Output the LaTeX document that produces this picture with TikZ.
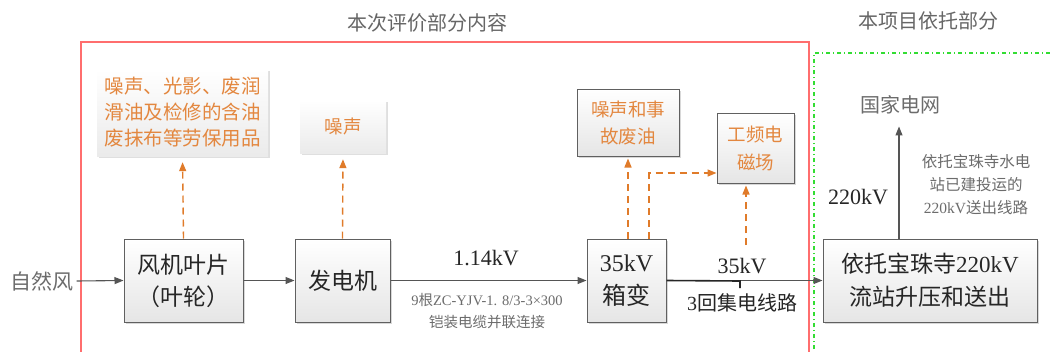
\documentclass[tikz,border=0pt]{standalone}
\usepackage{fontspec}
\setmainfont{Liberation Serif}
\newfontfamily\cjk{Noto Sans CJK SC}
\usetikzlibrary{arrows.meta,shadows}
\definecolor{orng}{HTML}{E07B2A}
\definecolor{otext}{HTML}{E3873F}
\definecolor{redb}{HTML}{FF6E6E}
\definecolor{greenb}{HTML}{33DD33}
\definecolor{linec}{HTML}{555555}
\definecolor{txt}{HTML}{262626}
\begin{document}
\begin{tikzpicture}[x=1pt,y=-1pt,
  box/.style={draw=gray!75!black, line width=1pt, top color=white, bottom color=gray!20,
    drop shadow={shadow xshift=1.5pt,shadow yshift=-1.5pt,opacity=0.3},
    align=center, text=txt, inner sep=0pt},
  nbox/.style={draw=none, top color=white, bottom color=gray!16,
    drop shadow={shadow xshift=1.5pt,shadow yshift=-1.5pt,opacity=0.25},
    align=center, text=otext, inner sep=0pt},
  flow/.style={draw=linec, line width=1.1pt, -{Triangle[length=9pt,width=7pt]}},
  dflow/.style={draw=orng, line width=1.4pt, dash pattern=on 7pt off 5pt, -{Triangle[length=9pt,width=7pt]}},
  lbl/.style={text=txt, inner sep=0pt, align=center},
]
\useasboundingbox (0,0) rectangle (1050,351);
\clip (0,0) rectangle (1050,351);
\fill[white] (0,0) rectangle (1050,351);

% frames
\draw[redb, line width=1.6pt] (81,360) -- (81,42) -- (809,42) -- (809,360);
\draw[greenb, line width=1.2pt, dash pattern=on 4pt off 3pt on 1pt off 3pt] (814,360) -- (814,53) -- (1060,53);

% titles
\node[lbl, text=gray!80!black, font=\cjk\fontsize{20}{24}\selectfont] (t1) at (427,23) {本次评价部分内容};
\node[lbl, text=gray!80!black, font=\cjk\fontsize{20}{24}\selectfont] (t2) at (928,21) {本项目依托部分};

% main boxes
\node[box, minimum width=119pt, minimum height=83pt, font=\cjk\fontsize{23}{32}\selectfont] (wind) at (183.5,280.5)
  {风机叶片\\（叶轮）};
\node[box, minimum width=95pt, minimum height=83pt, font=\cjk\fontsize{23}{28}\selectfont] (gen) at (342.5,280.5)
  {发电机};
\node[box, minimum width=79pt, minimum height=83pt, font=\fontsize{24}{33}\selectfont] (xb) at (626.5,280.5)
  {35kV\\{\cjk 箱变}};
\node[box, minimum width=214pt, minimum height=83pt, font=\fontsize{23}{33}\selectfont] (sub) at (930,280.5)
  {{\cjk 依托宝珠寺}220kV\\{\cjk 流站升压和送出}};

% impact boxes
\node[nbox, minimum width=171pt, minimum height=87pt, font=\cjk\fontsize{19.5}{26}\selectfont] (n1) at (182.5,112.5)
  {噪声、光影、废润\\滑油及检修的含油\\废抹布等劳保用品};
\node[nbox, minimum width=86pt, minimum height=53pt, font=\cjk\fontsize{18.5}{24}\selectfont] (n2) at (343,126.5)
  {噪声};
\node[box, text=otext, minimum width=102pt, minimum height=67pt, font=\cjk\fontsize{18.5}{27}\selectfont] (n3) at (628,122.5)
  {噪声和事\\故废油};
\node[box, text=otext, minimum width=77pt, minimum height=70pt, font=\cjk\fontsize{18.5}{28}\selectfont] (n4) at (755.5,148)
  {工频电\\磁场};

% plain texts
\node[lbl, text=gray!85!black, font=\cjk\fontsize{21}{24}\selectfont] (nw) at (42,281) {自然风};
\node[lbl, text=gray!85!black, font=\cjk\fontsize{20}{24}\selectfont] (grid) at (900,105) {国家电网};

% labels
\node[lbl, font=\fontsize{22}{24}\selectfont] (l1) at (486,258) {1.14kV};
\node[lbl, text=gray!85!black, font=\fontsize{14.5}{22}\selectfont] (l2) at (487,311)
  {9{\cjk 根}ZC-YJV-1. 8/3-3×300\\{\cjk 铠装电缆并联连接}};
\node[lbl, font=\fontsize{22}{24}\selectfont] (l3) at (742,266) {35kV};
\node[lbl, font=\fontsize{20}{24}\selectfont] (l4) at (742,303) {3{\cjk 回集电线路}};
\node[lbl, font=\fontsize{22}{24}\selectfont] (l5) at (858,197) {220kV};
\node[lbl, text=gray!85!black, font=\fontsize{15.5}{23}\selectfont] (l6) at (976,185)
  {{\cjk 依托宝珠寺水电}\\{\cjk 站已建投运的}\\220kV{\cjk 送出线路}};

% coordinates
\coordinate (tick) at (740,281);
\coordinate (tickend) at (740,288);
\coordinate (c3) at (746,245);

% main flow
\draw[flow] (nw.east) ++(3pt,0) -- (wind.west);
\draw[flow] (wind) -- (gen);
\draw[flow] (gen) -- (xb);
\draw[flow] (xb.east) -- (sub.west);
\draw[draw=txt, line width=1.6pt] (xb.east) -- (tick) -- (tickend);
\draw[flow, shorten >=12pt] ([xshift=-31pt]sub.north) -- ([xshift=-31pt]sub.north |- grid.south);

% dashed impact arrows
\draw[dflow, shorten >=6pt] (wind.north) -- (n1.south);
\draw[dflow, shorten >=6pt] (gen.north) -- (n2.south);
\draw[dflow, shorten >=2pt] ([xshift=1.5pt]xb.north) -- ([xshift=1.5pt]xb.north |- n3.south);
\draw[dflow] ([xshift=22.5pt]xb.north) |- ([yshift=-25pt]n4.west);
\draw[dflow, shorten >=2pt] (c3) -- (c3 |- n4.south);
\end{tikzpicture}
\end{document}
